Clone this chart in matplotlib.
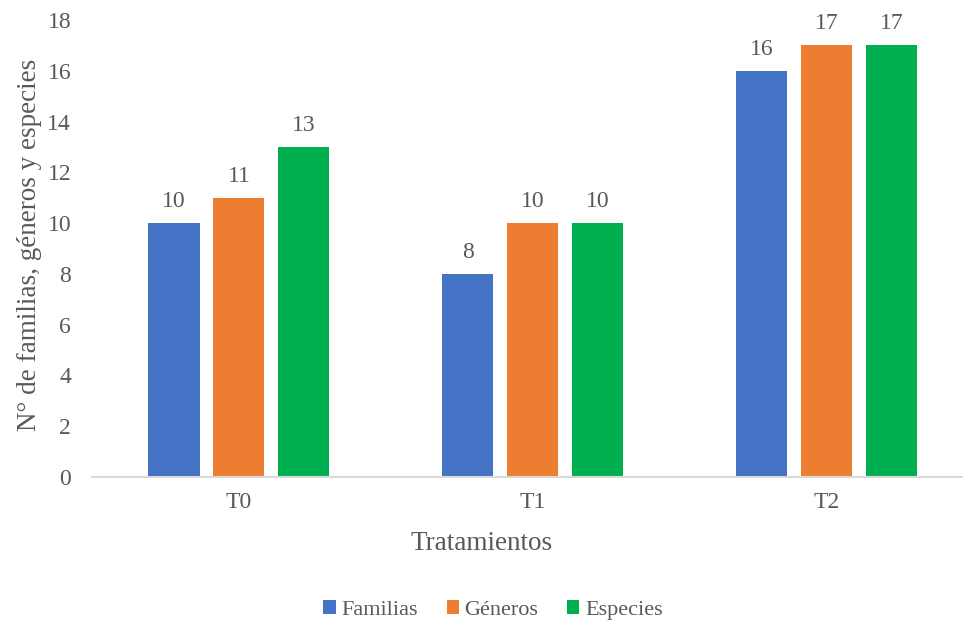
import numpy as np
import matplotlib.pyplot as plt

tratamientos = ['T0', 'T1', 'T2']
familias = [10, 8, 16]
generos = [11, 10, 17]
especies = [13, 10, 17]

series = [('Familias', familias, '#4472C4'),
          ('Géneros', generos, '#ED7D31'),
          ('Especies', especies, '#00B050')]

plt.rcParams['font.family'] = ['Liberation Serif', 'DejaVu Serif']
gris = '#595959'

fig = plt.figure(figsize=(9.63, 6.25), dpi=100)
ax = fig.add_axes([0.0955, 0.2368, 0.9155, 0.7312])

x = np.arange(len(tratamientos))
ancho = 0.174
paso = 0.221
for i, (nombre, valores, color) in enumerate(series):
    pos = x + (i - 1) * paso
    barras = ax.bar(pos, valores, width=ancho, color=color, label=nombre)
    ax.bar_label(barras, labels=[str(v) for v in valores], padding=8,
                 fontsize=17, color=gris)

ax.set_xlim(-0.5, 2.5)
ax.set_ylim(0, 18)
ax.set_yticks(range(0, 19, 2))
ax.set_xticks(x)
ax.set_xticklabels(tratamientos)
ax.tick_params(axis='both', length=0, labelsize=17, labelcolor=gris)
ax.tick_params(axis='y', pad=15)
ax.tick_params(axis='x', pad=11)

for lado in ['top', 'right', 'left']:
    ax.spines[lado].set_visible(False)
ax.spines['bottom'].set_color('#D9D9D9')
ax.spines['bottom'].set_linewidth(1.5)

ax.set_ylabel('N° de familias, géneros y especies', fontsize=19.5, color=gris)
ax.yaxis.set_label_coords(30 / 963, 1 - 245 / 625, transform=fig.transFigure)
ax.set_xlabel('Tratamientos', fontsize=19.5, color=gris)
ax.xaxis.set_label_coords(0.5, 1 - 544 / 625, transform=fig.transFigure)
ax.xaxis.label.set_va('center')
ax.yaxis.label.set_va('center')

fig.legend(loc='center', bbox_to_anchor=(493 / 963, 1 - 610 / 625), ncol=3,
           frameon=False, fontsize=16, labelcolor=gris, handlelength=0.55,
           handleheight=0.55, handletextpad=0.25, columnspacing=1.3)

plt.savefig('out.png', dpi=100)
